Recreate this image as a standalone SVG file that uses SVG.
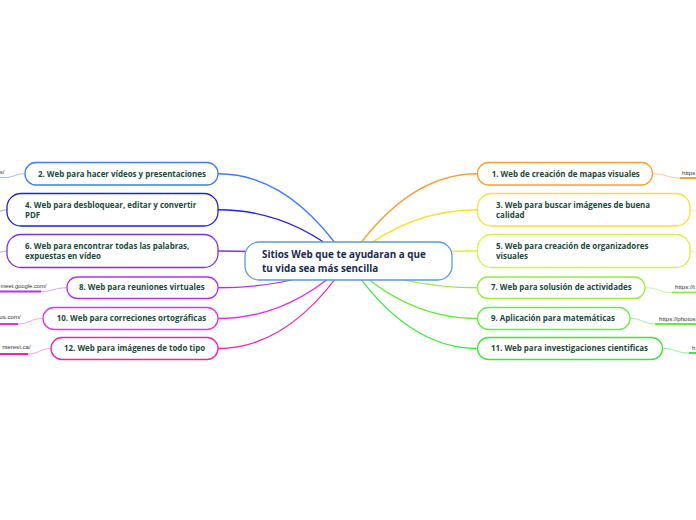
<svg xmlns="http://www.w3.org/2000/svg" width="696" height="520" viewBox="0 0 696 520">
<style>
.n{fill:#fff;stroke-width:1.3}
.t{font-family:"Open Sans","Noto Sans","DejaVu Sans",sans-serif;font-weight:bold;font-size:7.95px;fill:#1a4a3c}
.c{font-family:"Open Sans","Noto Sans","DejaVu Sans",sans-serif;font-weight:bold;font-size:9.85px;fill:#1c2b4d}
.u{font-family:"Liberation Sans",Arial,sans-serif;font-size:6.1px;fill:#333}
.l{fill:none;stroke-width:1.3}
.f{fill:none;stroke-width:1}
.ul{fill:none;stroke-width:2}
</style>
<rect width="696" height="520" fill="#fff"/>
<g id="connectors">
<path class="l" stroke="#3d7cf5" d="M218 173.75 Q290 173.75 348 261"/>
<path class="l" stroke="#2020e0" d="M218 209.75 Q290 209.75 348 261"/>
<path class="l" stroke="#7a35ea" d="M218 251 Q290 251 348 261"/>
<path class="l" stroke="#b035ea" d="M218 287.75 Q290 287.75 348 261"/>
<path class="l" stroke="#e035e0" d="M218 318.5 Q290 318.5 348 261"/>
<path class="l" stroke="#f020b0" d="M218 348.5 Q290 348.5 348 261"/>
<path class="l" stroke="#f5a030" d="M477.5 173.75 Q406 173.75 348 261"/>
<path class="l" stroke="#f8e030" d="M477.5 209.75 Q406 209.75 348 261"/>
<path class="l" stroke="#d8f040" d="M477.5 251 Q406 251 348 261"/>
<path class="l" stroke="#98ec40" d="M477.5 287.75 Q406 287.75 348 261"/>
<path class="l" stroke="#68ec40" d="M477.5 318.5 Q406 318.5 348 261"/>
<path class="l" stroke="#38e838" d="M477.5 348.5 Q406 348.5 348 261"/>
<path class="f" stroke="#9fbaf8" d="M25 173.75 C15 173.75 14 177.5 5 177.5 L0 177.5"/>
<path class="f" stroke="#9a9af0" d="M7 209.75 C4 209.75 3 211 0 211"/>
<path class="f" stroke="#c0a0f4" d="M7 251 C4 251 3 252 0 252"/>
<path class="f" stroke="#d8a8f4" d="M67 287.75 C54 287.75 54 291.5 41 291.5"/>
<path class="ul" stroke="#b035ea" d="M41 291.5 L0 291.5"/>
<path class="f" stroke="#f0a8f0" d="M43 318.5 C30 318.5 30 324 18 324"/>
<path class="ul" stroke="#e035e0" d="M18 324 L0 324"/>
<path class="f" stroke="#f8a0d8" d="M51 348.5 C40 348.5 39 354 28 354"/>
<path class="ul" stroke="#f020b0" d="M28 354 L0 354"/>
<path class="f" stroke="#f8cc90" d="M652.5 173.75 C666 173.75 667 178 680 178"/>
<path class="ul" stroke="#f5a030" d="M680 178 L696 178"/>
<path class="f" stroke="#f8ec90" d="M690 209.75 C692 209.75 693 211 696 211"/>
<path class="f" stroke="#e8f4a0" d="M690 251 C692 251 693 252 696 252"/>
<path class="f" stroke="#c4f4a0" d="M645 287.75 C659 287.75 659 292.5 672 292.5"/>
<path class="ul" stroke="#98ec40" d="M672 292.5 L696 292.5"/>
<path class="f" stroke="#a8f098" d="M630 318.5 C643 318.5 643 324 655 324"/>
<path class="ul" stroke="#68ec40" d="M655 324 L696 324"/>
<path class="f" stroke="#98ee98" d="M662.5 348.5 C676 348.5 676 353 689 353"/>
<path class="ul" stroke="#38e838" d="M689 353 L696 353"/>
</g>
<g id="url2"><text class="u" x="4.5" y="174" text-anchor="end">s/</text></g>
<g id="url8"><text class="u" x="0.4" y="288" style="font-size:5.8px">meet.google.com/</text></g>
<g id="url10"><text class="u" x="20.7" y="318.8" text-anchor="end">us.com/</text></g>
<g id="url12"><text class="u" x="30.7" y="348.8" text-anchor="end">nterest.ca/</text></g>
<g id="url1"><text class="u" x="682" y="175">https</text></g>
<g id="url7"><text class="u" x="675" y="289">https://t</text></g>
<g id="url9"><text class="u" x="659" y="320.5">https://photos</text></g>
<g id="url11"><text class="u" x="692" y="349.5">h</text></g>
<g id="center">
<rect class="n" x="245" y="242" width="207" height="38" rx="14" stroke="#5a9ad8"/>
<text class="c" x="262" y="258">Sitios Web que te ayudaran a que</text>
<text class="c" x="262" y="271.7">tu vida sea más sencilla</text>
</g>
<g id="node2">
<rect class="n" x="25" y="162.5" width="193" height="22.5" rx="11" stroke="#3d7cf5"/>
<text class="t" x="38" y="176.7">2. Web para hacer vídeos y presentaciones</text>
</g>
<g id="node4">
<rect class="n" x="7" y="193.5" width="211" height="32.5" rx="14" stroke="#2020e0"/>
<text class="t" x="25" y="207.7">4. Web para desbloquear, editar y convertir</text>
<text class="t" x="25" y="217.9">PDF</text>
</g>
<g id="node6">
<rect class="n" x="7" y="234.5" width="211" height="33" rx="14" stroke="#7a35ea"/>
<text class="t" x="25" y="249">6. Web para encontrar todas las palabras,</text>
<text class="t" x="25" y="259.3">expuestas en vídeo</text>
</g>
<g id="node8">
<rect class="n" x="67" y="277" width="151" height="21.5" rx="10.5" stroke="#b035ea"/>
<text class="t" x="79" y="290.2">8. Web para reuniones virtuales</text>
</g>
<g id="node10">
<rect class="n" x="43" y="307.5" width="175" height="22" rx="11" stroke="#e035e0"/>
<text class="t" x="56.7" y="320.9">10. Web para correciones ortográficas</text>
</g>
<g id="node12">
<rect class="n" x="51" y="337.5" width="167" height="22" rx="11" stroke="#f020b0"/>
<text class="t" x="64" y="350.9">12. Web para imágenes de todo tipo</text>
</g>
<g id="node1">
<rect class="n" x="477.5" y="162.5" width="175" height="22.5" rx="11" stroke="#f5a030"/>
<text class="t" x="491.7" y="176.7">1. Web de creación de mapas visuales</text>
</g>
<g id="node3">
<rect class="n" x="477.5" y="193.5" width="212.5" height="32.5" rx="14" stroke="#f8e030"/>
<text class="t" x="496" y="207.7">3. Web para buscar imágenes de buena</text>
<text class="t" x="496" y="217.9">calidad</text>
</g>
<g id="node5">
<rect class="n" x="477.5" y="234.5" width="212.5" height="33" rx="14" stroke="#d8f040"/>
<text class="t" x="496" y="249">5. Web para creación de organizadores</text>
<text class="t" x="496" y="259.3">visuales</text>
</g>
<g id="node7">
<rect class="n" x="477.5" y="277" width="167.5" height="21.5" rx="10.5" stroke="#98ec40"/>
<text class="t" x="491" y="290.2">7. Web para solusión de actividades</text>
</g>
<g id="node9">
<rect class="n" x="477.5" y="307.5" width="152.5" height="22" rx="11" stroke="#68ec40"/>
<text class="t" x="491" y="320.9">9. Aplicación para matemáticas</text>
</g>
<g id="node11">
<rect class="n" x="477.5" y="337.5" width="185" height="22" rx="11" stroke="#38e838"/>
<text class="t" x="491" y="350.9">11. Web para investigaciones cientificas</text>
</g>
</svg>
